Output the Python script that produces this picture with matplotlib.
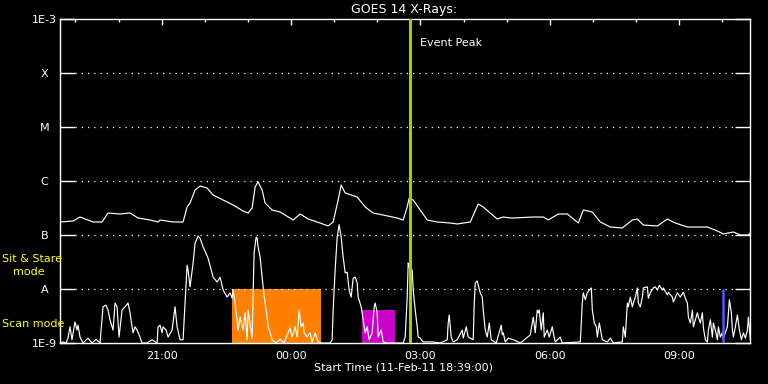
import numpy as np
import matplotlib
matplotlib.use("Agg")
import matplotlib.pyplot as plt

# ---- data (time = hours since 11-Feb-11 18:39:00, flux as log10 W/m^2) ----
long_t = [0.0, 0.295, 0.457, 0.759, 0.968, 1.107, 1.385, 1.617, 1.803, 2.081, 2.267, 2.313,
          2.615, 2.847, 2.940, 3.009, 3.125, 3.241, 3.404, 3.543, 3.775, 4.007, 4.239, 4.355,
          4.448, 4.517, 4.587, 4.680, 4.749, 4.912, 5.097, 5.399, 5.561, 5.747, 6.025, 6.211,
          6.327, 6.443, 6.513, 6.606, 6.884, 7.070, 7.255, 7.487, 7.812, 7.951, 8.044, 8.090,
          8.183, 8.346, 8.508, 8.740, 9.042, 9.204, 9.506, 9.599, 9.691, 9.807, 9.970, 10.132,
          10.271, 10.434, 10.503, 10.968, 11.200, 11.316, 11.548, 11.756, 12.012, 12.128, 12.337,
          12.522, 12.754, 13.032, 13.265, 13.381, 13.520, 13.845, 14.077, 14.262, 14.541, 15.005,
          15.237, 15.376, 15.608, 15.770, 15.956, 16.002]
long_logf = [-6.759, -6.741, -6.667, -6.759, -6.759, -6.593, -6.611, -6.593, -6.685, -6.722, -6.759, -6.722,
             -6.759, -6.759, -6.481, -6.407, -6.167, -6.093, -6.130, -6.259, -6.352, -6.444, -6.556, -6.593,
             -6.500, -6.111, -6.019, -6.167, -6.407, -6.537, -6.574, -6.722, -6.611, -6.704, -6.778, -6.833,
             -6.759, -6.352, -6.074, -6.222, -6.296, -6.481, -6.593, -6.630, -6.685, -6.722, -6.481, -6.315,
             -6.352, -6.537, -6.722, -6.759, -6.778, -6.796, -6.759, -6.593, -6.426, -6.481, -6.593, -6.704,
             -6.667, -6.685, -6.685, -6.667, -6.667, -6.722, -6.611, -6.611, -6.778, -6.537, -6.574,
             -6.759, -6.852, -6.870, -6.722, -6.704, -6.815, -6.833, -6.704, -6.778, -6.852, -6.852,
             -6.926, -6.981, -6.944, -7.000, -7.000, -6.963]

short_t = [0.0, 0.063, 0.132, 0.179, 0.225, 0.271, 0.341, 0.387, 0.411, 0.457, 0.527, 0.643, 0.735,
           0.828, 0.921, 0.991, 1.060, 1.107, 1.153, 1.223, 1.269, 1.316, 1.362, 1.432, 1.501, 1.571,
           1.617, 1.664, 1.687, 1.733, 1.780, 1.849, 1.896, 2.012, 2.128, 2.244, 2.267, 2.313, 2.360,
           2.383, 2.453, 2.499, 2.592, 2.661, 2.708, 2.777, 2.847, 2.893, 2.940, 2.963, 3.009, 3.079,
           3.125, 3.195, 3.241, 3.311, 3.427, 3.543, 3.636, 3.705, 3.775, 3.868, 3.937, 3.984, 4.007,
           4.053, 4.100, 4.123, 4.169, 4.239, 4.285, 4.332, 4.355, 4.448, 4.471, 4.494, 4.541, 4.564,
           4.587, 4.633, 4.703, 4.749, 4.796, 4.819, 4.865, 4.912, 5.004, 5.097, 5.190, 5.329, 5.376,
           5.445, 5.492, 5.538, 5.584, 5.631, 5.654, 5.724, 5.793, 5.840, 5.909, 5.979, 6.072, 6.257,
           6.304, 6.327, 6.373, 6.420, 6.466, 6.513, 6.559, 6.606, 6.652, 6.698, 6.745, 6.791, 6.838,
           6.884, 6.907, 6.977, 7.023, 7.070, 7.116, 7.162, 7.232, 7.278, 7.301, 7.348, 7.371, 7.441,
           7.487, 7.580, 7.951, 7.997, 8.044, 8.067, 8.090, 8.160, 8.183, 8.230, 8.276, 8.299, 8.346,
           8.415, 8.624, 8.810, 8.972, 8.995, 9.018, 9.065, 9.111, 9.204, 9.320, 9.343, 9.413, 9.459,
           9.575, 9.599, 9.622, 9.668, 9.691, 9.738, 9.784, 9.807, 9.854, 9.900, 9.947, 9.993, 10.109,
           10.225, 10.248, 10.271, 10.318, 10.387, 10.51, 10.67, 10.897, 10.967, 11.013, 11.060,
           11.083, 11.106, 11.152, 11.199, 11.222, 11.292, 11.338, 11.408, 11.431, 11.477, 11.593,
           11.640, 12.058, 12.104, 12.128, 12.174, 12.220, 12.267, 12.313, 12.337, 12.383, 12.430,
           12.453, 12.499, 12.569, 12.685, 12.754, 12.824, 13.032, 13.056, 13.102, 13.149, 13.172,
           13.218, 13.265, 13.288, 13.334, 13.381, 13.404, 13.450, 13.497, 13.520, 13.613, 13.636,
           13.682, 13.752, 13.798, 13.845, 13.891, 13.961, 13.984, 14.077, 14.100, 14.193, 14.216,
           14.309, 14.378, 14.448, 14.494, 14.541, 14.564, 14.610, 14.657, 14.680, 14.773, 14.796,
           14.842, 14.889, 14.912, 14.958, 15.005, 15.028, 15.074, 15.121, 15.144, 15.190, 15.237,
           15.260, 15.306, 15.353, 15.376, 15.469, 15.515, 15.561, 15.585, 15.608, 15.654, 15.701,
           15.747, 15.794, 15.840, 15.886, 15.933, 15.956, 16.002]
short_logf = [-9.0, -8.98, -9.0, -8.91, -8.70, -8.94, -8.61, -8.76, -8.67, -8.89, -9.0, -8.91, -9.0,
              -8.93, -9.0, -8.33, -8.30, -8.39, -8.57, -8.76, -8.26, -8.33, -8.89, -8.39, -8.33, -8.26,
              -8.44, -8.70, -8.81, -8.70, -8.76, -8.89, -9.0, -9.0, -8.94, -9.0, -8.70, -8.67, -8.81,
              -8.70, -8.76, -8.89, -8.76, -8.33, -8.70, -8.94, -8.94, -8.26, -7.56, -7.65, -7.96, -7.52,
              -7.15, -7.02, -7.06, -7.22, -7.43, -7.78, -7.87, -7.78, -8.02, -8.15, -8.07, -8.17, -8.02,
              -8.26, -8.57, -8.76, -8.52, -8.76, -8.44, -8.94, -8.39, -8.91, -8.15, -7.33, -7.04, -7.06,
              -7.22, -7.41, -7.96, -8.26, -8.52, -8.70, -8.81, -8.94, -9.0, -8.93, -9.0, -8.72, -8.89,
              -8.70, -8.89, -8.39, -8.70, -8.63, -8.81, -8.89, -8.81, -8.98, -8.81, -8.98, -9.0, -9.0,
              -8.94, -8.39, -7.65, -7.04, -6.81, -7.04, -7.41, -7.70, -7.69, -8.02, -8.15, -7.80, -7.78,
              -7.89, -8.15, -8.33, -8.57, -8.81, -8.70, -8.94, -8.81, -8.33, -8.26, -8.44, -8.89, -8.76,
              -8.98, -9.0, -9.0, -8.89, -8.15, -7.52, -7.59, -7.65, -8.02, -8.39, -8.70, -8.89, -8.91,
              -8.98, -8.98, -9.0, -8.94, -8.63, -8.48, -8.89, -8.98, -8.94, -8.76, -8.91, -8.70, -8.89,
              -8.94, -8.26, -7.89, -7.85, -7.93, -8.07, -8.15, -8.39, -8.76, -8.89, -8.63, -8.94, -9.0,
              -8.67, -8.85, -8.81, -8.98, -8.91, -8.94, -9.0, -8.85, -8.52, -8.81, -8.39,
              -8.44, -8.39, -8.76, -8.44, -8.89, -8.76, -8.89, -8.70, -8.81, -8.98, -8.89,
              -9.0, -8.98, -8.26, -8.07, -8.20, -8.07, -8.02, -7.98, -8.39, -8.63, -8.70,
              -8.89, -8.63, -8.94, -8.98, -8.91, -9.0, -8.98, -8.70, -8.89, -8.26, -8.33,
              -8.15, -8.33, -8.26, -8.15, -7.98, -8.26, -8.33, -8.15, -7.98, -7.96, -8.17,
              -8.07, -7.98, -7.96, -8.02, -7.93, -8.02, -7.98, -8.11, -8.06, -8.15, -8.24,
              -8.07, -8.15, -8.06, -8.17, -8.26, -8.52, -8.63, -8.39, -8.70, -8.44, -8.52,
              -8.63, -8.44, -8.72, -8.94, -8.98, -8.76, -8.57, -8.89, -8.63, -8.76, -8.94,
              -8.70, -8.89, -8.81, -8.91, -8.70, -8.20, -8.44, -8.76, -8.89, -8.70, -8.48,
              -8.76, -8.94, -8.81, -8.91, -8.76, -8.52, -8.94]

# observation-mode boxes: (start, end, top flux)
orange_box = (3.984, 6.04, 1e-8)
magenta_box = (6.99, 7.754, 4.1e-9)
event_peak_t = 8.10
blue_mark = (15.376, 1e-9, 1e-8)

x_tick_pos = [0.35, 1.35, 2.35, 3.35, 4.35, 5.35, 6.35, 7.35, 8.35, 9.35, 10.35, 11.35, 12.35, 13.35, 14.35, 15.35]
x_major_pos = [2.35, 5.35, 8.35, 11.35, 14.35]
x_major_lab = ["21:00", "00:00", "03:00", "06:00", "09:00"]
y_levels = [1e-9, 1e-8, 1e-7, 1e-6, 1e-5, 1e-4, 1e-3]
y_labels = ["1E-9", "A", "B", "C", "M", "X", "1E-3"]

# ---- figure ----
W, H = 768, 384
fig = plt.figure(figsize=(W / 100, H / 100), dpi=100, facecolor="black")
ax = fig.add_axes([60.3 / W, 41 / H, 690 / W, 324 / H], facecolor="black")
ax.set_yscale("log")
ax.set_xlim(0, 16.0)
ax.set_ylim(1e-9, 1e-3)

ax.fill_between([orange_box[0], orange_box[1]], 1e-9, orange_box[2], color="#ff8000", lw=0, zorder=1)
ax.fill_between([magenta_box[0], magenta_box[1]], 1e-9, magenta_box[2], color="#cc00cc", lw=0, zorder=1)

for lev in y_levels[1:-1]:
    ax.axhline(lev, xmin=0.021, xmax=0.979, color="white", lw=0.9, ls=(0, (1, 4)), zorder=2)

lt = np.array(long_t)
lf = 10 ** np.array(long_logf)
st = np.array(short_t)
sf = 10 ** np.clip(np.array(short_logf), -9, None)
ax.plot(lt, lf, color="white", lw=0.85, zorder=3)
ax.plot(st, sf, color="white", lw=0.85, zorder=3)

ax.axvline(event_peak_t, color="#a0d000", lw=2.2, zorder=4)
ax.vlines(blue_mark[0], blue_mark[1], blue_mark[2], color="#5555ff", lw=1.8, zorder=4)

for s in ax.spines.values():
    s.set_color("white")
    s.set_linewidth(1.0)

ax.set_yticks(y_levels)
ax.set_yticklabels(y_labels)
ax.yaxis.set_minor_locator(matplotlib.ticker.NullLocator())
ax.tick_params(axis="y", which="major", direction="in", length=10.5, width=1.0, colors="white",
               left=True, right=True, labelsize=8, pad=11.5)
for lab in ax.get_yticklabels():
    lab.set_horizontalalignment("center")
    lab.set_color("white")

ax.set_xticks(x_major_pos)
ax.set_xticklabels(x_major_lab)
ax.set_xticks(x_tick_pos, minor=True)
ax.tick_params(axis="x", which="both", direction="in", bottom=False, top=True,
               labelbottom=True, labeltop=False, colors="white", labelsize=8, pad=6)
ax.tick_params(axis="x", which="major", length=4.5, width=1.0)
ax.tick_params(axis="x", which="minor", length=2.5, width=1.0)

fig.text(404 / W, 1 - 10 / H, "GOES 14 X-Rays:", color="white", fontsize=9, ha="center", va="center")
fig.text(404 / W, 1 - 368 / H, "Start Time (11-Feb-11 18:39:00)", color="white", fontsize=8,
         ha="center", va="center")
fig.text(420 / W, 1 - 43 / H, "Event Peak", color="white", fontsize=8, ha="left", va="center")
fig.text(2 / W, 1 - 259 / H, "Sit & Stare", color="yellow", fontsize=8, ha="left", va="center")
fig.text(13 / W, 1 - 272 / H, "mode", color="yellow", fontsize=8, ha="left", va="center")
fig.text(2 / W, 1 - 324 / H, "Scan mode", color="yellow", fontsize=8, ha="left", va="center")

fig.savefig("out.png", dpi=100, facecolor="black")
